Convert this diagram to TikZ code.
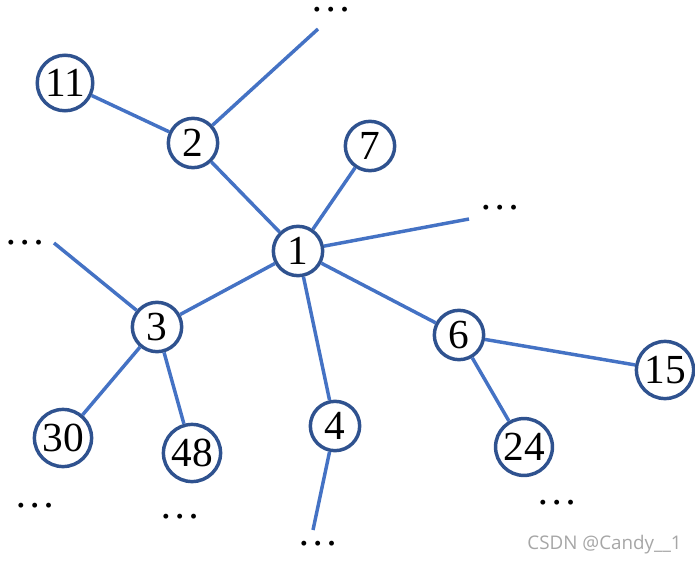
\documentclass[tikz,border=0pt]{standalone}
\usepackage{fontspec}
\setmainfont{Liberation Serif}
\newfontfamily\wmfont{Open Sans}
\usetikzlibrary{positioning}
\definecolor{edgeblue}{RGB}{68,114,196}
\definecolor{ringblue}{RGB}{47,82,143}
\tikzset{
    vert/.style={circle, draw=ringblue, line width=2.6pt, fill=white,
        inner sep=2pt, minimum size=37pt, font=\fontsize{31}{31}\selectfont},
    more/.style={font=\fontsize{31}{31}\selectfont, inner sep=0pt,
        text height=3pt, text depth=0pt},
    link/.style={edgeblue, line width=2.6pt}
}

\begin{document}
\begin{tikzpicture}[x=0.75pt, y=-0.75pt]
    \useasboundingbox (0,0) rectangle (695,563);
    % vertices
    \node[vert] (n1) at (298,251) {1};
    \node[vert] (n2) at (193,143) {2};
    \node[vert] (n7) at (370,146) {7};
    \node[vert] (n11) at (65,83) {11};
    \node[vert] (n3) at (157,327) {3};
    \node[vert] (n6) at (459,335) {6};
    \node[vert] (n15) at (665,370) {15};
    \node[vert] (n4) at (335,426) {4};
    \node[vert] (n30) at (63,438) {30};
    \node[vert] (n48) at (192,453) {48};
    \node[vert] (n24) at (524,447) {24};
    % loose ends
    \coordinate (e2) at (318,29);
    \coordinate (e1) at (469,219);
    \coordinate (e3) at (54,243);
    \coordinate (e4) at (313,530);
    \draw[link] (n1) -- (n2);
    \draw[link] (n1) -- (n7);
    \draw[link] (n1) -- (e1);
    \draw[link] (n1) -- (n3);
    \draw[link] (n1) -- (n6);
    \draw[link] (n1) -- (n4);
    \draw[link] (n2) -- (n11);
    \draw[link] (n2) -- (e2);
    \draw[link] (n3) -- (e3);
    \draw[link] (n3) -- (n30);
    \draw[link] (n3) -- (n48);
    \draw[link] (n6) -- (n15);
    \draw[link] (n6) -- (n24);
    \draw[link] (n4) -- (e4);
    % dots
    \node[more] (d1) at (331,10) {…};
    \node[more] (d2) at (500,207) {…};
    \node[more] (d3) at (25,242) {…};
    \node[more] (d4) at (35,505) {…};
    \node[more] (d5) at (180,516) {…};
    \node[more] (d6) at (318,543) {…};
    \node[more] (d7) at (557,502) {…};
    \node[anchor=base east, text=black!35, font=\wmfont\fontsize{14.1}{15}\selectfont, inner sep=0pt] (wm) at (682,549) {CSDN @Candy\_\_1};
\end{tikzpicture}
\end{document}
